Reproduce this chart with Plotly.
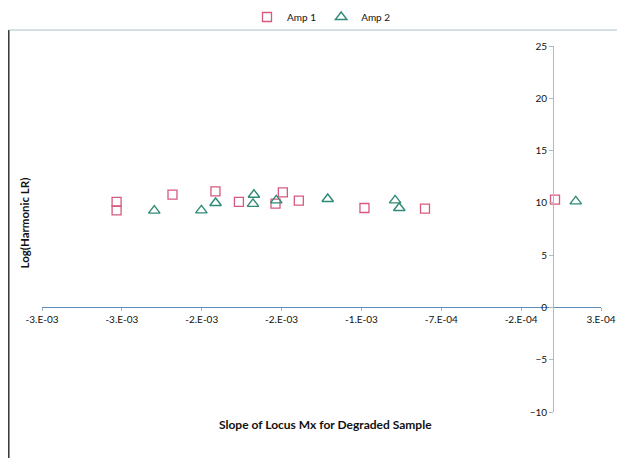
import plotly.graph_objects as go

# ---- data ----
amp1_x = [-2.733e-3, -2.733e-3, -2.383e-3, -2.114e-3, -1.967e-3, -1.738e-3,
          -1.692e-3, -1.592e-3, -1.181e-3, -0.802e-3, 0.012e-3]
amp1_y = [10.09, 9.28, 10.78, 11.10, 10.09, 9.92, 11.00, 10.21, 9.51, 9.45, 10.30]

amp2_x = [-2.497e-3, -2.202e-3, -2.113e-3, -1.879e-3, -1.873e-3, -1.733e-3,
          -1.411e-3, -0.989e-3, -0.963e-3, 0.142e-3]
amp2_y = [9.26, 9.28, 9.99, 9.90, 10.78, 10.24, 10.37, 10.24, 9.51, 10.14]

x_tickvals = [-3.2e-3, -2.7e-3, -2.2e-3, -1.7e-3, -1.2e-3, -0.7e-3, -0.2e-3, 0.3e-3]
x_ticktext = ["-3.E-03", "-3.E-03", "-2.E-03", "-2.E-03", "-1.E-03", "-7.E-04", "-2.E-04", "3.E-04"]
y_tickvals = [-10, -5, 0, 5, 10, 15, 20, 25]

x_range = [-3.2e-3, 0.3e-3]
y_range = [-10, 25]

FONT = "Lato"
C1 = "#d65a7e"
C2 = "#2f8a78"

fig = go.Figure()
fig.add_trace(go.Scatter(x=amp1_x, y=amp1_y, mode="markers", name="Amp 1",
                         marker=dict(symbol="square-open", size=9, color=C1,
                                     line=dict(width=1.3, color=C1))))
fig.add_trace(go.Scatter(x=amp2_x, y=amp2_y, mode="markers", name="Amp 2",
                         marker=dict(symbol="triangle-up-open", size=10, color=C2,
                                     line=dict(width=1.4, color=C2))))

xpos = (0 - y_range[0]) / (y_range[1] - y_range[0])
ypos = (0 - x_range[0]) / (x_range[1] - x_range[0])

W, H = 617, 450
L, R, T, B = 34, 24, 38, 46
PW, PH = W - L - R, H - T - B

fig.update_layout(
    width=W, height=H,
    margin=dict(l=L, r=R, t=T, b=B, autoexpand=False),
    paper_bgcolor="white", plot_bgcolor="white",
    font=dict(family=FONT, size=10, color="#111"),
    showlegend=True,
    legend=dict(orientation="h", x=0.5, xanchor="center",
                yref="container", y=1 - 9 / H, yanchor="middle",
                font=dict(family=FONT, size=10, color="#111"),
                itemwidth=30, tracegroupgap=0, bgcolor="rgba(0,0,0,0)"),
    xaxis=dict(range=x_range, tickvals=x_tickvals, ticktext=x_ticktext,
               showgrid=False, zeroline=False, showline=True,
               linecolor="#5b8db8", linewidth=1,
               ticks="outside", ticklen=3, tickcolor="#9fb8cc",
               anchor="free", position=xpos, automargin=False,
               tickfont=dict(family=FONT, size=10, color="#111")),
    yaxis=dict(range=y_range, tickvals=y_tickvals,
               showgrid=False, zeroline=False, showline=True,
               linecolor="#b8b8b8", linewidth=1,
               ticks="outside", ticklen=4, tickcolor="#b8b8b8",
               anchor="free", position=ypos, automargin=False,
               tickfont=dict(family=FONT, size=10, color="#111")),
)

fig.add_annotation(text="<b>Log(Harmonic LR)</b>", xref="paper", yref="paper",
                   x=(25 - 8 - L) / PW, y=0.515, textangle=-90, showarrow=False,
                   xanchor="center", yanchor="middle",
                   font=dict(family=FONT, size=11.5, color="#111"))
fig.add_annotation(text="<b>Slope of Locus Mx for Degraded Sample</b>", xref="paper", yref="paper",
                   x=(325 - 8 - L) / PW, y=1 - (424 - 8 - T) / PH, showarrow=False,
                   xanchor="center", yanchor="middle",
                   font=dict(family=FONT, size=12, color="#111"))

# chart-area border (left and top visible)
bx = (0.8 - L) / PW
by = 1 + (T - 22) / PH
fig.add_shape(type="line", xref="paper", yref="paper", x0=bx, x1=bx, y0=by, y1=-0.3,
              line=dict(color="#333", width=1.5))
fig.add_shape(type="line", xref="paper", yref="paper", x0=bx, x1=1.1, y0=by, y1=by,
              line=dict(color="#a9c0c8", width=1))

fig.write_html("out.html")
